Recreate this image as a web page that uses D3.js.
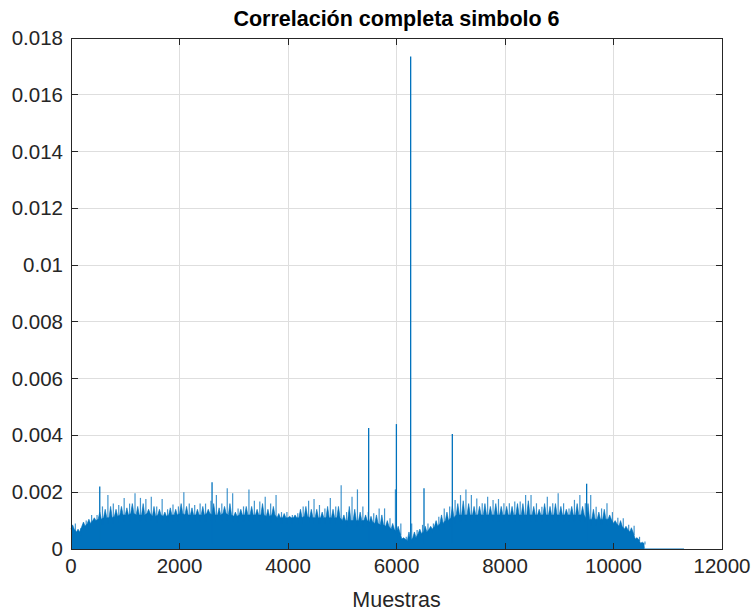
<!DOCTYPE html>
<html><head><meta charset="utf-8">
<script src="https://cdn.jsdelivr.net/npm/d3@7"></script>
<style>
html,body{margin:0;padding:0;background:#fff;}
svg{display:block;font-family:"Liberation Sans",Arial,Helvetica,sans-serif;}
</style></head>
<body>
<svg id="chart" width="753" height="613"></svg>
<script>
// ---- data ----
const titleText = "Correlación completa simbolo 6";
const xLabelText = "Muestras";
const xTicks = [0, 2000, 4000, 6000, 8000, 10000, 12000];
const yTicks = [0, 0.002, 0.004, 0.006, 0.008, 0.01, 0.012, 0.014, 0.016, 0.018];
const yTickLabels = ["0", "0.002", "0.004", "0.006", "0.008", "0.01", "0.012", "0.014", "0.016", "0.018"];
const binSize = 100; // samples per envelope bin
// highest peak of the noisy correlation in each 100-sample bin (0 .. 10600)
const peakVals = [
  0.0009, 0.00073, 0.001, 0.0012, 0.0012, 0.0015, 0.0019, 0.0016, 0.00155, 0.0018,
  0.0016, 0.00196, 0.0018, 0.00176, 0.00184, 0.0015, 0.00176, 0.0014, 0.00157, 0.0015,
  0.002, 0.0016, 0.00155, 0.0016, 0.0016, 0.0017, 0.0019, 0.0016, 0.00214, 0.00196,
  0.00143, 0.0015, 0.0021, 0.0017, 0.00167, 0.00184, 0.0016, 0.0019, 0.0013, 0.0013,
  0.0012, 0.00126, 0.0015, 0.0017, 0.00176, 0.00155, 0.00143, 0.0018, 0.0015, 0.00225,
  0.0013, 0.00184, 0.0021, 0.0015, 0.0013, 0.00126, 0.00143, 0.00143, 0.00108, 0.0021,
  0.0009, 0.00043, 0.0009, 0.00067, 0.00085, 0.0009, 0.0009, 0.00114, 0.00143, 0.0015,
  0.00173, 0.0019, 0.0021, 0.0019, 0.00178, 0.00161, 0.00184, 0.00173, 0.00176, 0.00161,
  0.00161, 0.00167, 0.00167, 0.0019, 0.0019, 0.00161, 0.00149, 0.00184, 0.00161, 0.00196,
  0.00161, 0.00143, 0.00173, 0.0019, 0.00161, 0.0019, 0.00149, 0.00143, 0.00161, 0.0013,
  0.0011, 0.00108, 0.00085, 0.00082, 0.00043, 0.00026
];
// second-highest peak in each bin (estimated)
const midVals = [
  0.00085, 0.0007, 0.00095, 0.00105, 0.0011, 0.0013, 0.0014, 0.0015, 0.0014, 0.0015,
  0.00145, 0.0016, 0.0015, 0.0016, 0.0014, 0.0015, 0.0014, 0.0013, 0.00145, 0.0014,
  0.0016, 0.0015, 0.00145, 0.0014, 0.0015, 0.0014, 0.0016, 0.00145, 0.0015, 0.0016,
  0.0013, 0.0014, 0.0015, 0.0015, 0.0014, 0.0016, 0.0014, 0.0015, 0.00125, 0.00125,
  0.00115, 0.0012, 0.0014, 0.0015, 0.0014, 0.0014, 0.0013, 0.0015, 0.0014, 0.0015,
  0.0012, 0.0015, 0.0014, 0.0013, 0.0012, 0.00115, 0.0012, 0.0012, 0.001, 0.0009,
  0.0008, 0.0004, 0.0006, 0.0006, 0.0007, 0.0008, 0.0008, 0.001, 0.0012, 0.0013,
  0.0015, 0.0016, 0.0017, 0.0016, 0.0015, 0.0015, 0.0016, 0.0015, 0.0016, 0.0015,
  0.0015, 0.0015, 0.0016, 0.0016, 0.0017, 0.0015, 0.0014, 0.0016, 0.0015, 0.0016,
  0.0015, 0.0014, 0.0015, 0.0016, 0.0015, 0.0016, 0.0014, 0.0013, 0.0014, 0.0012,
  0.001, 0.001, 0.0008, 0.00075, 0.0004, 0.00024
];
// level of the dense (solid) part of the trace, per bin
const coreVals = [
  0.0007, 0.0006, 0.0008, 0.0009, 0.001, 0.00105, 0.0011, 0.0011, 0.00115, 0.0012,
  0.0012, 0.00125, 0.0012, 0.0012, 0.00125, 0.00115, 0.0012, 0.00115, 0.0012, 0.0012,
  0.00125, 0.0012, 0.0012, 0.0012, 0.0012, 0.00125, 0.0012, 0.0012, 0.00125, 0.0012,
  0.00115, 0.0012, 0.0012, 0.0012, 0.0012, 0.0012, 0.00115, 0.0012, 0.0011, 0.0011,
  0.0011, 0.0011, 0.0011, 0.00115, 0.0011, 0.0011, 0.0011, 0.0011, 0.0011, 0.0011,
  0.001, 0.001, 0.001, 0.001, 0.001, 0.00095, 0.0009, 0.00085, 0.0008, 0.0007,
  0.0006, 0.00035, 0.0003, 0.0004, 0.00055, 0.0006, 0.0007, 0.0008, 0.0009, 0.001,
  0.0011, 0.0012, 0.0012, 0.0012, 0.0012, 0.0012, 0.0012, 0.0012, 0.0012, 0.0012,
  0.0012, 0.0012, 0.0012, 0.0012, 0.0012, 0.0012, 0.0012, 0.0012, 0.0012, 0.0012,
  0.0012, 0.0012, 0.0012, 0.0012, 0.0012, 0.00105, 0.00105, 0.00105, 0.00105, 0.00105,
  0.0009, 0.0008, 0.0007, 0.0006, 0.00035, 0.0002
];
// isolated spikes
const spikeSamples = [530, 2600, 5487, 5998, 6261, 6507, 7029, 9505];
const spikeVals    = [0.0022, 0.00235, 0.00426, 0.0044, 0.01735, 0.00214, 0.00405, 0.0023];
// near-zero tail after the active part
const tailSamples = [10570, 11300];
const tailVals    = [0.00001, 0.00001];

// ---- layout ----
const svg = d3.select("#chart");
const L = 71, R = 722, T = 38, B = 549;
const x = d3.scaleLinear().domain([0, 12000]).range([L, R]);
const y = d3.scaleLinear().domain([0, 0.018]).range([B, T]);
const axisColor = "#262626";
const lineColor = "#0072BD";
const fs = 20.5;

// grid
const g = svg.append("g");
g.selectAll(".vg").data(xTicks.slice(1, -1)).enter().append("line")
  .attr("x1", d => x(d)).attr("x2", d => x(d)).attr("y1", T).attr("y2", B)
  .attr("stroke", "#dedede").attr("stroke-width", 1).attr("shape-rendering", "crispEdges");
g.selectAll(".hg").data(yTicks.slice(1, -1)).enter().append("line")
  .attr("y1", d => y(d)).attr("y2", d => y(d)).attr("x1", L).attr("x2", R)
  .attr("stroke", "#dedede").attr("stroke-width", 1).attr("shape-rendering", "crispEdges");

// data
const bins = peakVals.map((p, i) => ({ s: i * binSize, peak: p, mid: midVals[i], core: coreVals[i] }));
const plot = svg.append("g");
const lastS = tailSamples[0];
const ln = d3.line().x(d => x(d[0])).y(d => y(d[1]));
// dense body: ragged outline core -> second peak -> core
const bodyPts = [];
bins.forEach(d => {
  bodyPts.push([d.s, d.core]);
  bodyPts.push([d.s + 30, d.mid]);
  bodyPts.push([d.s + 60, d.core]);
});
bodyPts.push([lastS, tailVals[0]]);
plot.append("path")
  .datum(bodyPts)
  .attr("fill", lineColor)
  .attr("d", d3.area().x(d => x(d[0])).y0(y(0)).y1(d => y(d[1])));
plot.append("path")
  .datum(bodyPts)
  .attr("fill", "none").attr("stroke", lineColor).attr("stroke-width", 1).attr("stroke-opacity", 0.6)
  .attr("d", ln);
// highest peak of each bin as a thin line
plot.selectAll(".pk").data(bins).enter().append("path")
  .attr("fill", "none").attr("stroke", lineColor).attr("stroke-width", 1.2).attr("stroke-opacity", 0.75)
  .attr("d", d => ln([[d.s + 80, d.core * 0.8], [d.s + 80, d.peak]]));
// tail
plot.append("path")
  .datum(tailSamples.map((s, i) => [s, tailVals[i]]))
  .attr("fill", "none").attr("stroke", lineColor).attr("stroke-width", 1).attr("stroke-opacity", 0.6)
  .attr("d", ln);
// isolated spikes
plot.selectAll(".sp").data(spikeSamples.map((s, i) => ({ s, v: spikeVals[i] }))).enter().append("path")
  .attr("fill", "none").attr("stroke", lineColor).attr("stroke-width", 1.3)
  .attr("d", d => ln([[d.s, 0.0002], [d.s, d.v]]));

// box & ticks
const ax = svg.append("g").attr("stroke", axisColor).attr("stroke-width", 1).attr("shape-rendering", "crispEdges");
ax.append("rect").attr("x", L).attr("y", T).attr("width", R - L).attr("height", B - T).attr("fill", "none");
const tl = 6.5;
xTicks.forEach(t => {
  ax.append("line").attr("x1", x(t)).attr("x2", x(t)).attr("y1", B).attr("y2", B - tl);
  ax.append("line").attr("x1", x(t)).attr("x2", x(t)).attr("y1", T).attr("y2", T + tl);
});
yTicks.forEach(t => {
  ax.append("line").attr("y1", y(t)).attr("y2", y(t)).attr("x1", L).attr("x2", L + tl);
  ax.append("line").attr("y1", y(t)).attr("y2", y(t)).attr("x1", R).attr("x2", R - tl);
});

// tick labels
svg.append("g").selectAll("text").data(xTicks).enter().append("text")
  .attr("x", d => x(d)).attr("y", B + 24).attr("text-anchor", "middle")
  .attr("font-size", fs).attr("fill", axisColor).text(d => d);
svg.append("g").selectAll("text").data(yTicks).enter().append("text")
  .attr("x", L - 8).attr("y", d => y(d) + 7).attr("text-anchor", "end")
  .attr("font-size", fs).attr("fill", axisColor).text((d, i) => yTickLabels[i]);

// labels
svg.append("text").attr("x", (L + R) / 2).attr("y", 26).attr("text-anchor", "middle")
  .attr("font-size", 21.5).attr("font-weight", "bold").attr("fill", "#000").text(titleText);
svg.append("text").attr("x", (L + R) / 2).attr("y", 607).attr("text-anchor", "middle")
  .attr("font-size", 21.5).attr("fill", axisColor).text(xLabelText);
</script>
</body></html>
